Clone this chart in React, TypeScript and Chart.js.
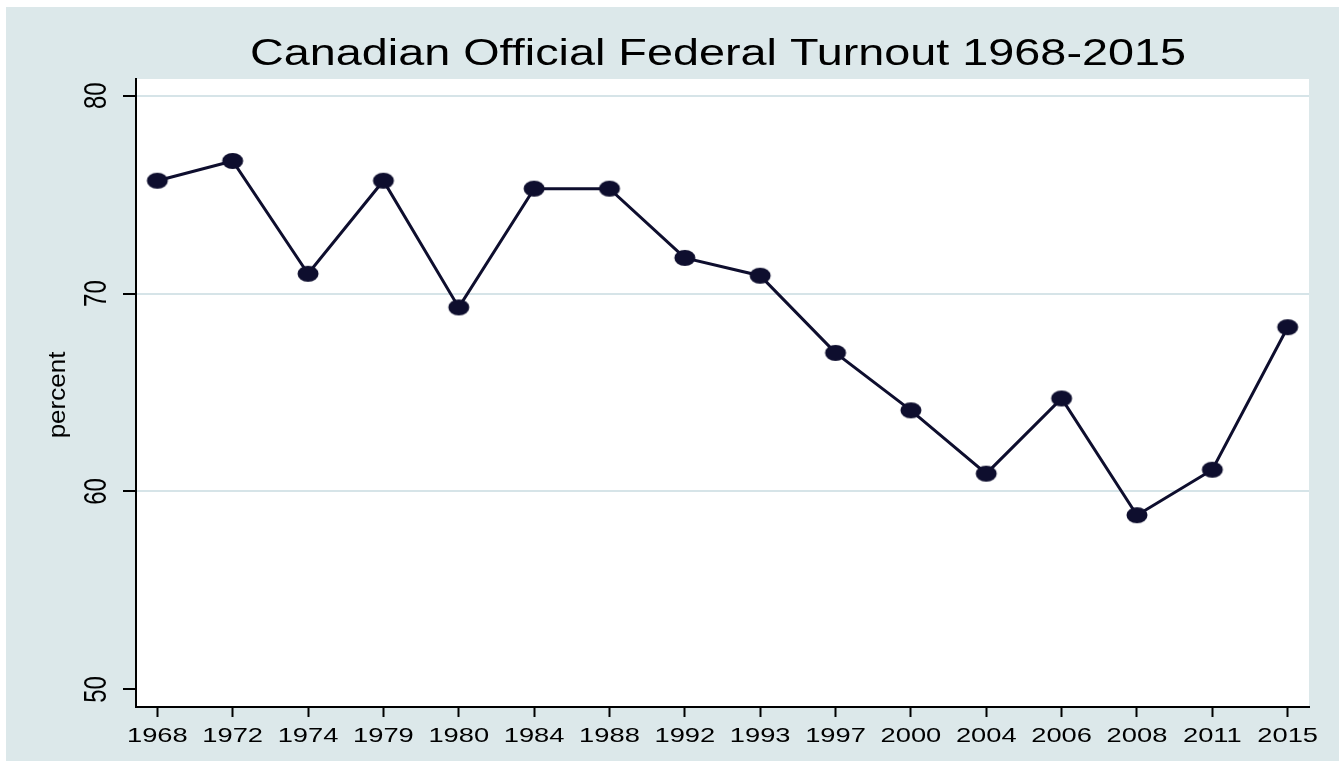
import React, { useEffect, useRef } from 'react';
import { Chart, registerables } from 'chart.js';

Chart.register(...registerables);

// ---- data ----
const years: string[] = ['1968', '1972', '1974', '1979', '1980', '1984', '1988', '1992', '1993', '1997', '2000', '2004', '2006', '2008', '2011', '2015'];
const turnout: number[] = [75.7, 76.7, 71.0, 75.7, 69.3, 75.3, 75.3, 71.8, 70.9, 67.0, 64.1, 60.9, 64.7, 58.8, 61.1, 68.3];
const yTicks: number[] = [50, 60, 70, 80];
const titleText = 'Canadian Official Federal Turnout 1968-2015';
const yTitleText = 'percent';

// ---- style ----
const BG = '#DCE8EA';
const LINE = '#0E0E2E';
const GRID = '#D6E4E8';
const FONT = '"Liberation Sans", Arial, Helvetica, sans-serif';

function drawText(
  ctx: CanvasRenderingContext2D,
  text: string,
  x: number,
  y: number,
  size: number,
  sx: number,
  rot: number,
  align: CanvasTextAlign,
  baseline: CanvasTextBaseline
) {
  ctx.save();
  ctx.translate(x, y);
  ctx.scale(sx, 1);
  if (rot) ctx.rotate(rot);
  ctx.font = `${size}px ${FONT}`;
  ctx.textAlign = align;
  ctx.textBaseline = baseline;
  ctx.fillStyle = '#000';
  ctx.fillText(text, 0, 0);
  ctx.restore();
}

const stataPlugin = {
  id: 'stataLook',
  beforeDraw(chart: any) {
    const { ctx, chartArea: a } = chart;
    ctx.save();
    ctx.fillStyle = BG;
    ctx.fillRect(0, 0, chart.width, chart.height);
    ctx.fillStyle = '#ffffff';
    ctx.fillRect(a.left, a.top, a.right - a.left, a.bottom - a.top);
    ctx.restore();
  },
  afterDraw(chart: any) {
    const { ctx } = chart;
    const xs = chart.scales.x;
    const ys = chart.scales.y;
    // title
    ctx.save();
    ctx.font = `36px ${FONT}`;
    const tw = ctx.measureText(titleText).width;
    ctx.restore();
    drawText(ctx, titleText, 712, 58, 36, 936 / tw, 0, 'center', 'alphabetic');
    // x tick labels
    years.forEach((lab, i) => {
      drawText(ctx, lab, xs.getPixelForValue(i), 735, 21, 1.3, 0, 'center', 'alphabetic');
    });
    // y tick labels (rotated)
    yTicks.forEach((v) => {
      drawText(ctx, String(v), 99.5, ys.getPixelForValue(v), 24, 1.3, -Math.PI / 2, 'center', 'alphabetic');
    });
    // y axis title
    drawText(ctx, yTitleText, 59, 388, 26, 0.95, -Math.PI / 2, 'center', 'alphabetic');
  },
};

export default function App() {
  const ref = useRef<HTMLCanvasElement | null>(null);

  useEffect(() => {
    if (!ref.current) return;
    const marker = document.createElement('canvas');
    marker.width = 24;
    marker.height = 18;
    const mctx = marker.getContext('2d')!;
    mctx.fillStyle = LINE;
    mctx.beginPath();
    mctx.ellipse(12, 9, 10.5, 8, 0, 0, Math.PI * 2);
    mctx.fill();

    const chart = new Chart(ref.current, {
      type: 'line',
      data: {
        datasets: [
          {
            data: turnout.map((v, i) => ({ x: i, y: v })),
            borderColor: LINE,
            backgroundColor: LINE,
            borderWidth: 3,
            pointStyle: marker as any,
            pointRadius: 10,
            tension: 0,
          },
        ],
      },
      options: {
        responsive: false,
        animation: false,
        layout: { padding: { top: 72, right: 30, left: 0, bottom: 0 } },
        plugins: {
          legend: { display: false },
          title: { display: false },
          tooltip: { enabled: false },
        },
        scales: {
          x: {
            type: 'linear',
            min: -0.283,
            max: 15.283,
            afterBuildTicks: (s: any) => {
              s.ticks = years.map((_, i) => ({ value: i }));
            },
            afterFit: (s: any) => {
              s.height = 54;
            },
            ticks: { display: false },
            grid: {
              drawOnChartArea: false,
              drawTicks: true,
              tickLength: 10,
              tickColor: '#000',
              tickWidth: 2,
            },
            border: { display: true, color: '#000', width: 2 },
          },
          y: {
            type: 'linear',
            min: 49.11,
            max: 80.84,
            afterBuildTicks: (s: any) => {
              s.ticks = yTicks.map((v) => ({ value: v }));
            },
            afterFit: (s: any) => {
              s.width = 130;
            },
            ticks: { display: false },
            grid: {
              color: (c: any) => (c.tick && c.tick.value === 50 ? 'rgba(0,0,0,0)' : GRID),
              lineWidth: 2,
              drawTicks: true,
              tickLength: 13,
              tickColor: '#000',
              tickWidth: 2,
            },
            border: { display: true, color: '#000', width: 2 },
          },
        },
      },
      plugins: [stataPlugin],
    } as any);
    return () => chart.destroy();
  }, []);

  return (
    <div style={{ position: 'absolute', left: 6, top: 7, width: 1333, height: 754, background: BG }}>
      <canvas ref={ref} width={1333} height={754} style={{ display: 'block', width: 1333, height: 754 }} />
    </div>
  );
}
